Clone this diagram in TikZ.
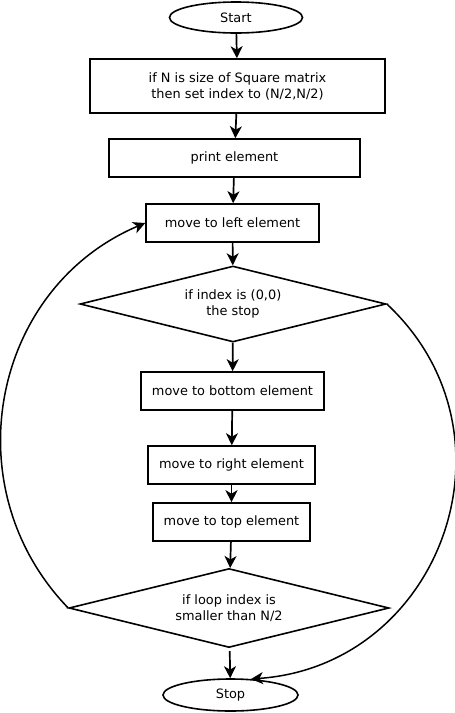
\documentclass[tikz,border=0pt]{standalone}
\usepackage{fontspec}
\setmainfont{DejaVu Sans}
\usetikzlibrary{shapes.geometric,arrows.meta}

\begin{document}
\begin{tikzpicture}[x=1pt,y=1pt,
  font=\fontsize{12.9}{16}\selectfont,
  stepbox/.style={draw, line width=1.6pt, inner sep=0pt, align=center},
  endpoint/.style={draw, ellipse, line width=1.6pt, inner sep=0pt},
  choice/.style={draw, diamond, aspect=4, line width=1.6pt, inner sep=0pt, align=center},
  flow/.style={line width=1.7pt, -{Stealth[length=12pt,width=12pt,inset=3.5pt]}},
  loopline/.style={line width=1.5pt, -{Stealth[length=12pt,width=12pt,inset=3.5pt]}}]
\useasboundingbox (0,0) rectangle (455,-713);

% Start and the first steps
\node[endpoint, minimum width=133, minimum height=31] (start) at (236,-17.5) {Start};
\node[stepbox, minimum width=295, minimum height=54] (setidx) at (237.5,-86) {if N is size of Square matrix\\then set index to (N/2,N/2)};
\node[stepbox, minimum width=251, minimum height=38] (print) at (234.5,-158) {print element};
\node[stepbox, minimum width=173, minimum height=38] (left) at (232.5,-223) {move to left element};

% First test
\node[choice, minimum width=306, minimum height=76] (check) at (233,-304) {if index is (0,0)\\the stop};

% Moves round the ring
\node[stepbox, minimum width=183, minimum height=38] (bottom) at (232.5,-391) {move to bottom element};
\node[stepbox, minimum width=167, minimum height=38] (right) at (231.5,-465) {move to right element};
\node[stepbox, minimum width=157, minimum height=38] (top) at (231.5,-522) {move to top element};

% Loop test and Stop
\node[choice, minimum width=320, minimum height=79] (loop) at (229,-608) {if loop index is\\smaller than N/2};
\node[endpoint, minimum width=135, minimum height=32] (stop) at (230.5,-695) {Stop};

% Connectors
\draw[flow] (start) -- (setidx);
\draw[flow] (setidx) -- (print);
\draw[flow] (print) -- (left);
\draw[flow] (left) -- (check);
\draw[flow] (check) -- (bottom);
\draw[flow] (bottom) -- (right);
\draw[flow] (right) -- (top);
\draw[flow] (top) -- (loop);
\draw[flow, shorten <=3pt] (loop) -- (stop);

% Loop back and exit
\draw[loopline] (loop.west) to[out=134,in=203,looseness=1.09] (left.west);
\draw[loopline] (check.east) to[out=-43,in=4,looseness=1.22] (stop.38);
\end{tikzpicture}
\end{document}
